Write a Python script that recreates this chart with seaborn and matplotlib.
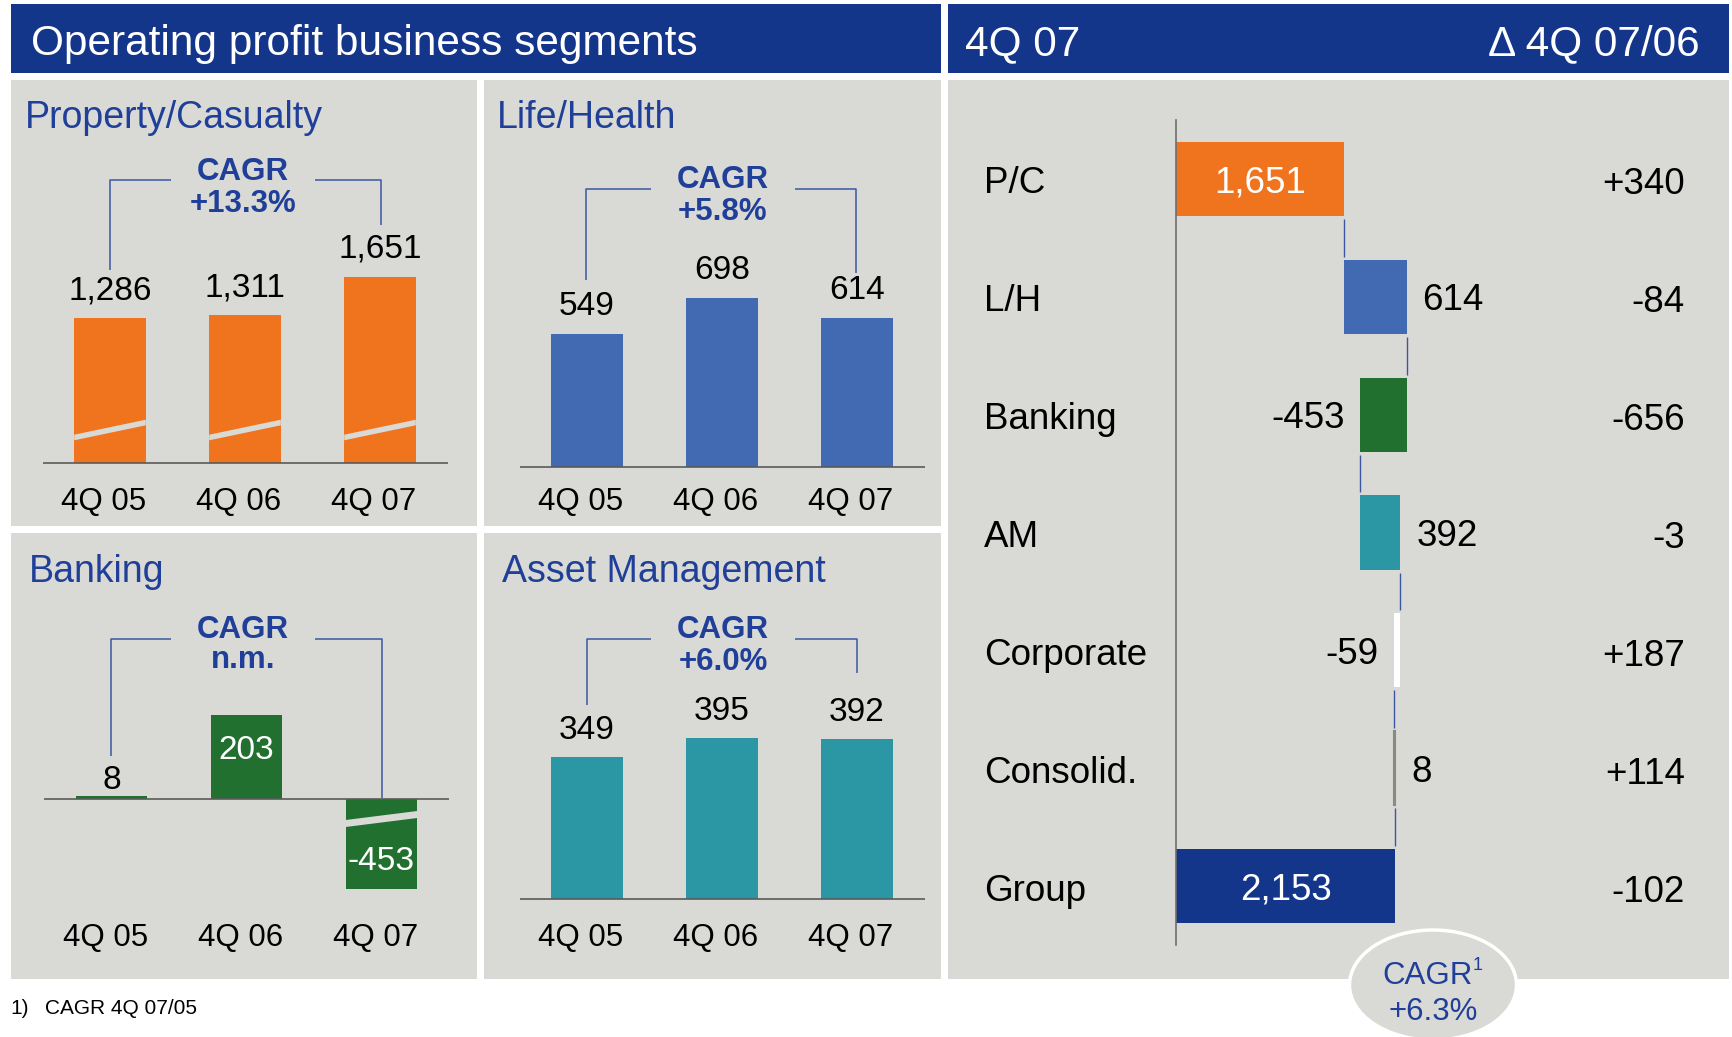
import matplotlib
matplotlib.use("Agg")
import matplotlib.pyplot as plt
import seaborn as sns
from matplotlib.patches import Rectangle, Ellipse, Polygon

# data
quarters = ["4Q 05", "4Q 06", "4Q 07"]
pc_values = [1286, 1311, 1651]
lh_values = [549, 698, 614]
bank_values = [8, 203, -453]
am_values = [349, 395, 392]

wf_labels = ["P/C", "L/H", "Banking", "AM", "Corporate", "Consolid.", "Group"]
wf_values = [1651, 614, -453, 392, -59, 8, 2153]
wf_delta = ["+340", "-84", "-656", "-3", "+187", "+114", "-102"]

# colours
ORANGE = "#F0731E"
LH_BLUE = "#416AB2"
GREEN = "#217030"
TEAL = "#2C97A4"
NAVY = "#13358A"
PANEL = "#D9D9D5"
TITLE = "#1F3F99"
LINE = "#3B57A3"
GRAY = "#8A8A82"

sns.set_theme(style="white")
plt.rcParams["font.family"] = ["Liberation Sans", "DejaVu Sans"]

W, H = 1732, 1037
fig = plt.figure(figsize=(W / 100, H / 100), dpi=100)
fig.patch.set_facecolor("white")

# background axes in pixel coordinates for panels, headers and notes
bg = fig.add_axes([0, 0, 1, 1])
bg.set_xlim(0, W)
bg.set_ylim(H, 0)
bg.axis("off")


def px_axes(x0, y0, x1, y1):
    ax = fig.add_axes([x0 / W, 1 - y1 / H, (x1 - x0) / W, (y1 - y0) / H])
    ax.patch.set_alpha(0)
    for s in ax.spines.values():
        s.set_visible(False)
    return ax


def box(x0, y0, x1, y1, color):
    bg.add_patch(Rectangle((x0, y0), x1 - x0, y1 - y0, facecolor=color, edgecolor="none", zorder=0))


# headers
box(11, 4, 941, 73, NAVY)
box(948, 4, 1729, 73, NAVY)
bg.text(31, 40, "Operating profit business segments", color="white", fontsize=30.5,
        ha="left", va="center_baseline")
bg.text(965, 40, "4Q 07", color="white", fontsize=30.5, ha="left", va="center_baseline")
bg.text(1700, 40, "\u0394 4Q 07/06", color="white", fontsize=30.5, ha="right", va="center_baseline")

# panels
box(11, 80, 477, 526, PANEL)
box(484, 80, 941, 526, PANEL)
box(11, 533, 477, 979, PANEL)
box(484, 533, 941, 979, PANEL)
box(948, 80, 1729, 979, PANEL)


def small_panel(values, color, x_range, y_range, base, scale, title, title_xy,
                cagr, cagr_y, cagr_x, bracket, xlab_y):
    ax = px_axes(x_range[0], y_range[0], x_range[1], y_range[1])
    sns.barplot(x=quarters, y=values, color=color, saturation=1, width=0.53,
                errorbar=None, linewidth=0, ax=ax)
    ax.set_xlim(-0.5, 2.5)
    ax.set_ylim(-(y_range[1] - base) / scale, (base - y_range[0]) / scale)
    ax.axhline(0, color="#5A5A5A", lw=1.2, zorder=3)
    ax.set_xticks([])
    ax.set_yticks([])
    ax.set_xlabel("")
    ax.set_ylabel("")
    for i, q in enumerate(quarters):
        ax.annotate(q, xy=(i, 0), xytext=(-6, -(xlab_y - base)), textcoords="offset pixels",
                    ha="center", va="center_baseline", fontsize=22.5, color="black",
                    annotation_clip=False)
    bg.text(title_xy[0], title_xy[1], title, color=TITLE, fontsize=27,
            ha="left", va="center_baseline")
    bg.text(cagr_x, cagr_y[0], "CAGR", color=TITLE, fontsize=22.5, fontweight="bold",
            ha="center", va="center_baseline")
    bg.text(cagr_x, cagr_y[1], cagr, color=TITLE, fontsize=22.5, fontweight="bold",
            ha="center", va="center_baseline")
    for leg in bracket:
        bg.plot([p[0] for p in leg], [p[1] for p in leg], color=LINE, lw=1.1,
                solid_capstyle="butt", zorder=2)
    return ax


def break_mark(ax, patch, scale, y_left, y_right, half=2.8):
    # y offsets in pixels above the baseline
    xl = patch.get_x()
    xr = xl + patch.get_width()
    pts = [(xl, (y_left - half) / scale), (xr, (y_right - half) / scale),
           (xr, (y_right + half) / scale), (xl, (y_left + half) / scale)]
    ax.add_patch(Polygon(pts, closed=True, facecolor=PANEL, edgecolor="none", zorder=2.5))


# Property/Casualty
pc_scale = 0.1127
ax_pc = small_panel(pc_values, ORANGE, (42.5, 447.5), (130, 520), 463, pc_scale,
                    "Property/Casualty", (25, 113.5), "+13.3%", (168, 200), 243,
                    [[(110, 270), (110, 180), (171, 180)], [(315, 180), (381, 180), (381, 225)]], 499)
for i, v in enumerate(pc_values):
    ax_pc.annotate(f"{v:,}", xy=(i, v), xytext=(0, 31), textcoords="offset pixels",
                   ha="center", va="center_baseline", fontsize=24, color="black")
for p in ax_pc.patches:
    break_mark(ax_pc, p, pc_scale, 25.5, 40.5)

# Life/Health
lh_scale = 0.242
ax_lh = small_panel(lh_values, LH_BLUE, (519.5, 924.5), (130, 520), 467, lh_scale,
                    "Life/Health", (497, 114), "+5.8%", (176, 208), 723,
                    [[(586, 280), (586, 189), (651, 189)], [(795, 189), (856, 189), (856, 273)]], 499)
for i, v in enumerate(lh_values):
    ax_lh.annotate(f"{v:,}", xy=(i, v), xytext=(0, 31), textcoords="offset pixels",
                   ha="center", va="center_baseline", fontsize=24, color="black")

# Banking
bk_scale = 0.414
ax_bk = small_panel(bank_values, GREEN, (44, 449), (600, 889), 799, bk_scale,
                    "Banking", (29, 568.5), "n.m.", (626, 657), 243,
                    [[(111, 756), (111, 639), (171, 639)], [(315, 639), (382, 639), (382, 798)]], 934)
ax_bk.annotate(f"{bank_values[0]:,}", xy=(0, bank_values[0]), xytext=(0, 19),
               textcoords="offset pixels", ha="center", va="center_baseline",
               fontsize=24, color="black")
ax_bk.annotate(f"{bank_values[1]:,}", xy=(1, bank_values[1]), xytext=(0, -32),
               textcoords="offset pixels", ha="center", va="center_baseline",
               fontsize=24, color="white")
ax_bk.annotate(f"{bank_values[2]:,}", xy=(2, 0), xytext=(0, -59),
               textcoords="offset pixels", ha="center", va="center_baseline",
               fontsize=24, color="white")
break_mark(ax_bk, ax_bk.patches[2], bk_scale, -24.5, -15.5, half=3.5)

# Asset Management
am_scale = 0.407
ax_am = small_panel(am_values, TEAL, (519.5, 924.5), (600, 960), 899, am_scale,
                    "Asset Management", (502, 568), "+6.0%", (627, 658), 723,
                    [[(587, 705), (587, 639), (651, 639)], [(795, 639), (857, 639), (857, 673)]], 934)
for i, v in enumerate(am_values):
    ax_am.annotate(f"{v:,}", xy=(i, v), xytext=(0, 30), textcoords="offset pixels",
                   ha="center", va="center_baseline", fontsize=24, color="black")

# waterfall of 4Q 07 operating profit
wf_scale = 0.1018
wax = px_axes(1176, 120, 1700, 945)
wax.spines["left"].set_visible(True)
wax.spines["left"].set_color("#6E6E6E")
wax.spines["left"].set_linewidth(1.2)
starts = []
running = 0
for v in wf_values[:-1]:
    starts.append(running)
    running += v
starts.append(0)
wf_colors = [ORANGE, LH_BLUE, GREEN, TEAL, "white", GRAY, NAVY]
rows = list(range(len(wf_values)))
bars = wax.barh(rows, wf_values, left=starts, height=0.63, color=wf_colors, linewidth=0)
bars[5].set_edgecolor(GRAY)
bars[5].set_linewidth(1.5)
wax.set_xlim(0, 524 / wf_scale)
wax.set_ylim(len(wf_values) - 0.5, -0.5)
wax.set_xticks([])
wax.set_yticks([])

for i in range(len(wf_values) - 1):
    x = starts[i] + wf_values[i]
    wax.vlines(x, i + 0.34, i + 0.66, color=LINE, lw=1.0)

for i, (lab, v, s, d) in enumerate(zip(wf_labels, wf_values, starts, wf_delta)):
    wax.annotate(lab, xy=(0, i), xytext=(984 - 1176, -1), textcoords="offset pixels",
                 ha="left", va="center_baseline", fontsize=26.5, color="black",
                 annotation_clip=False)
    wax.annotate(d, xy=(0, i), xytext=(1685 - 1176, -2), textcoords="offset pixels",
                 ha="right", va="center_baseline", fontsize=26.5, color="black",
                 annotation_clip=False)
    if lab in ("P/C", "Group"):
        wax.text(s + v / 2, i, f"{v:,}", ha="center", va="center_baseline",
                 fontsize=26.5, color="white")
    elif v > 0:
        wax.annotate(f"{v:,}", xy=(s + v, i), xytext=(16, 0), textcoords="offset pixels",
                     ha="left", va="center_baseline", fontsize=26.5, color="black")
    else:
        wax.annotate(f"{v:,}", xy=(s + v, i), xytext=(-16, 0), textcoords="offset pixels",
                     ha="right", va="center_baseline", fontsize=26.5, color="black")

# CAGR bubble
bg.add_patch(Ellipse((1433, 985), 167, 110, facecolor=PANEL, edgecolor="white", lw=2.5, zorder=5))
bg.text(1428, 973, "CAGR", color=TITLE, fontsize=22.5, ha="center", va="center_baseline", zorder=6)
bg.text(1473, 963, "1", color=TITLE, fontsize=13, ha="left", va="center_baseline", zorder=6)
bg.text(1433, 1008, "+6.3%", color=TITLE, fontsize=22.5, ha="center", va="center_baseline", zorder=6)

# footnote
bg.text(10, 1007, "1)", color="black", fontsize=15, ha="left", va="center_baseline")
bg.text(45, 1007, "CAGR 4Q 07/05", color="black", fontsize=15, ha="left", va="center_baseline")

fig.savefig("out.png", dpi=100, facecolor="white")
